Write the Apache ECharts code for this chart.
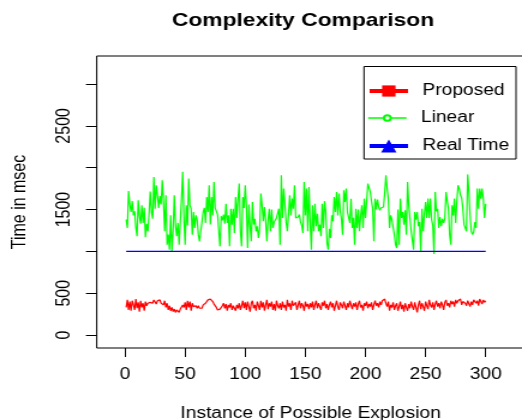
<!DOCTYPE html>
<html>
<head>
<meta charset="utf-8">
<title>Complexity Comparison</title>
<script src="https://cdn.jsdelivr.net/npm/echarts@6/dist/echarts.min.js"></script>
<style>
  html, body { margin: 0; padding: 0; background: #fff; overflow: hidden; }
  /* the plot is laid out on a narrower canvas and widened horizontally */
  #chart { width: 435px; height: 420px; transform: scaleX(1.2); transform-origin: 0 0; }
</style>
</head>
<body>
<div id="chart"></div>
<script>
// Time (msec) measured for each instance of possible explosion
const proposed = [
  330, 420, 300, 400, 290, 410, 360, 300, 430, 320,
  390, 280, 410, 330, 380, 290, 400, 350, 380, 400,
  390, 410, 380, 420, 400, 370, 410, 390, 420, 380,
  400, 360, 410, 330, 380, 300, 350, 290, 330, 280,
  310, 270, 300, 280, 270, 310, 320, 360, 330, 390,
  300, 410, 330, 400, 290, 380, 340, 320, 350, 320,
  350, 320, 340, 320, 360, 340, 380, 400, 420, 400,
  430, 410, 400, 370, 350, 330, 300, 290, 310, 320,
  350, 380, 320, 370, 290, 360, 330, 380, 300, 350,
  370, 290, 360, 320, 380, 300, 350, 410, 320, 390,
  300, 400, 340, 280, 380, 410, 320, 360, 290, 400,
  350, 300, 410, 330, 390, 290, 360, 420, 310, 380,
  340, 400, 300, 370, 290, 410, 350, 320, 380, 300,
  400, 330, 360, 290, 420, 340, 380, 300, 410, 350,
  330, 390, 300, 360, 410, 320, 380, 350, 290, 400,
  340, 370, 310, 380, 330, 400, 300, 360, 410, 320,
  380, 340, 300, 390, 350, 410, 320, 370, 300, 360,
  400, 330, 380, 290, 350, 410, 340, 300, 390, 360,
  320, 400, 350, 300, 380, 330, 410, 360, 310, 380,
  340, 390, 300, 370, 410, 330, 360, 290, 380, 350,
  400, 320, 370, 340, 390, 300, 360, 410, 350, 380,
  330, 400, 360, 410, 390, 430, 380, 340, 400, 290,
  360, 330, 390, 300, 350, 380, 290, 340, 400, 310,
  360, 280, 380, 330, 290, 370, 320, 400, 340, 300,
  390, 330, 270, 360, 410, 310, 380, 340, 290, 400,
  350, 310, 420, 360, 330, 390, 300, 370, 410, 340,
  380, 320, 400, 360, 300, 390, 420, 350, 380, 330,
  410, 370, 400, 340, 420, 380, 410, 400, 430, 360,
  400, 420, 380, 350, 410, 390, 340, 400, 360, 420,
  440, 380, 410, 350, 430, 400, 370, 420, 390, 410
];

const linear = [
  1380, 1280, 1720, 1560, 1470, 1600, 1430, 1480, 1290, 1180,
  1610, 1420, 1330, 1550, 1340, 1520, 1170, 1330, 1240, 1450,
  1715, 1470, 1390, 1890, 1510, 1790, 1670, 1520, 1660, 1560,
  1850, 1590, 1240, 1670, 1080, 1200, 1020, 1430, 1000, 1250,
  1670, 1310, 1180, 1340, 1080, 1090, 1630, 1950, 1400, 1080,
  1550, 1310, 1870, 1550, 1510, 1200, 1470, 1280, 1430, 1380,
  1200, 1120, 1240, 1350, 1470, 1520, 1340, 1650, 1470, 1790,
  1320, 1650, 1430, 1830, 1520, 1530, 1440, 1430, 1060, 1420,
  1370, 1440, 1330, 1570, 1340, 1430, 1060, 1510, 1320, 1510,
  1220, 1650, 1400, 1630, 1810, 1240, 1060, 1650, 1520, 1790,
  1540, 1040, 1560, 1310, 1120, 1590, 1320, 1390, 1240, 1300,
  1160, 1280, 1690, 1550, 1360, 1530, 1360, 1120, 1380, 1510,
  1240, 1500, 1280, 1350, 1360, 1400, 1380, 1510, 1080, 1910,
  1400, 1750, 1560, 1350, 1240, 1440, 1670, 1430, 1630, 1510,
  1790, 1400, 1420, 1410, 1440, 1350, 1310, 1220, 1830, 1430,
  1750, 1240, 1770, 1340, 1020, 1550, 1240, 1570, 1300, 1450,
  1240, 1320, 1180, 1570, 1280, 1600, 1470, 1100, 1020, 1270,
  1160, 1430, 1360, 1650, 1470, 1710, 1430, 1690, 1480, 1390,
  1200, 1730, 1590, 1750, 1470, 1470, 1340, 1630, 1280, 1400,
  1080, 1510, 1280, 1500, 1240, 1430, 1550, 1280, 1630, 1400,
  1600, 1810, 1790, 1710, 1600, 1510, 1120, 1630, 1500, 1620,
  1530, 1490, 1520, 1540, 1530, 1700, 1910, 1750, 1630, 1280,
  1430, 1380, 1370, 1200, 1080, 1040, 1500, 1080, 1630, 1400,
  1470, 1320, 1490, 1200, 1830, 1550, 1550, 1240, 1230, 1020,
  1470, 1380, 1470, 1300, 1350, 1000, 1510, 1240, 1450, 1590,
  1400, 1630, 1400, 1630, 1380, 1310, 970, 1710, 1480, 1510,
  1280, 1410, 1300, 1390, 1340, 1390, 1710, 1600, 1510, 1200,
  1080, 1550, 1430, 1630, 1340, 1600, 1790, 1750, 1670, 1640,
  1510, 1320, 1310, 1240, 1920, 1710, 1430, 1240, 1200, 1230,
  1350, 1280, 1750, 1510, 1750, 1630, 1750, 1630, 1400, 1570
];

// the real-time reference is constant over the whole run
const realTimeX = [1, 300];
const realTimeY = [1000, 1000];

const xTicks = [0, 50, 100, 150, 200, 250, 300];
const yTicks = [0, 500, 1000, 1500, 2000, 2500, 3000];
const yTickLabels = [0, 500, 1500, 2500];

const instances = [];
for (let i = 1; i <= linear.length; i++) instances.push(i);

const FONT = "'Liberation Sans', Arial, Helvetica, sans-serif";
const pairs = (xs, ys) => ys.map((v, i) => [xs[i], v]);

const chart = echarts.init(document.getElementById('chart'), null, { renderer: 'canvas' });

const legendBase = {
  left: 306,
  orient: 'vertical',
  padding: 0,
  itemWidth: 32,
  selectedMode: false,
  textStyle: { fontFamily: FONT, fontSize: 16, color: '#000', padding: [0, 0, 0, 7] }
};

chart.setOption({
  animation: false,
  backgroundColor: '#fff',
  title: {
    text: 'Complexity Comparison',
    left: 252.5,
    top: 11,
    padding: 0,
    textAlign: 'center',
    textStyle: { fontFamily: FONT, fontSize: 19, fontWeight: 'bold', color: '#000' }
  },
  grid: {
    show: true,
    left: 80.6,
    right: -2,
    top: 56,
    bottom: 72,
    outerBoundsMode: 'none',
    containLabel: false,
    borderColor: '#000',
    borderWidth: 1,
    backgroundColor: 'transparent'
  },
  xAxis: {
    type: 'value',
    min: -23.5,
    max: 332.2,
    name: 'Instance of Possible Explosion',
    nameLocation: 'middle',
    nameGap: 58,
    nameTextStyle: { fontFamily: FONT, fontSize: 16, color: '#000' },
    axisLine: { show: false, onZero: false },
    splitLine: { show: false },
    axisTick: { show: true, length: 9, customValues: xTicks, lineStyle: { color: '#000', width: 1 } },
    axisLabel: { customValues: xTicks, margin: 19, fontFamily: FONT, fontSize: 16, color: '#000' }
  },
  yAxis: {
    type: 'value',
    min: -155,
    max: 3335,
    name: 'Time in msec',
    nameLocation: 'middle',
    nameGap: 56,
    nameTextStyle: { fontFamily: FONT, fontSize: 16, color: '#000' },
    axisLine: { show: false, onZero: false },
    splitLine: { show: false },
    axisTick: { show: true, length: 9, customValues: yTicks, lineStyle: { color: '#000', width: 1 } },
    axisLabel: {
      customValues: yTickLabels, rotate: 90, margin: 19,
      fontFamily: FONT, fontSize: 16, color: '#000',
      formatter: v => String(v)
    }
  },
  legend: [
    Object.assign({}, legendBase, {
      data: ['Proposed'], top: 83, itemHeight: 14, lineStyle: { width: 4 }
    }),
    Object.assign({}, legendBase, {
      data: ['Linear'], top: 110, itemHeight: 7, lineStyle: { width: 1.5 }
    }),
    Object.assign({}, legendBase, {
      data: ['Real Time'], top: 138, itemHeight: 16, lineStyle: { width: 4 }
    })
  ],
  graphic: [{
    type: 'rect',
    shape: { x: 303.3, y: 66.5, width: 126.7, height: 92.5 },
    style: { fill: 'none', stroke: '#000', lineWidth: 1 },
    silent: true
  }],
  series: [
    {
      name: 'Proposed',
      type: 'line',
      data: pairs(instances, proposed),
      symbol: 'rect',
      showSymbol: false,
      lineStyle: { color: '#ff0000', width: 1.2 },
      itemStyle: { color: '#ff0000' }
    },
    {
      name: 'Linear',
      type: 'line',
      data: pairs(instances, linear),
      symbol: 'emptyCircle',
      showSymbol: false,
      lineStyle: { color: '#00ff00', width: 1.2 },
      itemStyle: { color: '#00ff00' }
    },
    {
      name: 'Real Time',
      type: 'line',
      data: pairs(realTimeX, realTimeY),
      symbol: 'triangle',
      showSymbol: false,
      lineStyle: { color: '#0000ff', width: 1.4 },
      itemStyle: { color: '#0000ff' }
    }
  ]
});
</script>
</body>
</html>
